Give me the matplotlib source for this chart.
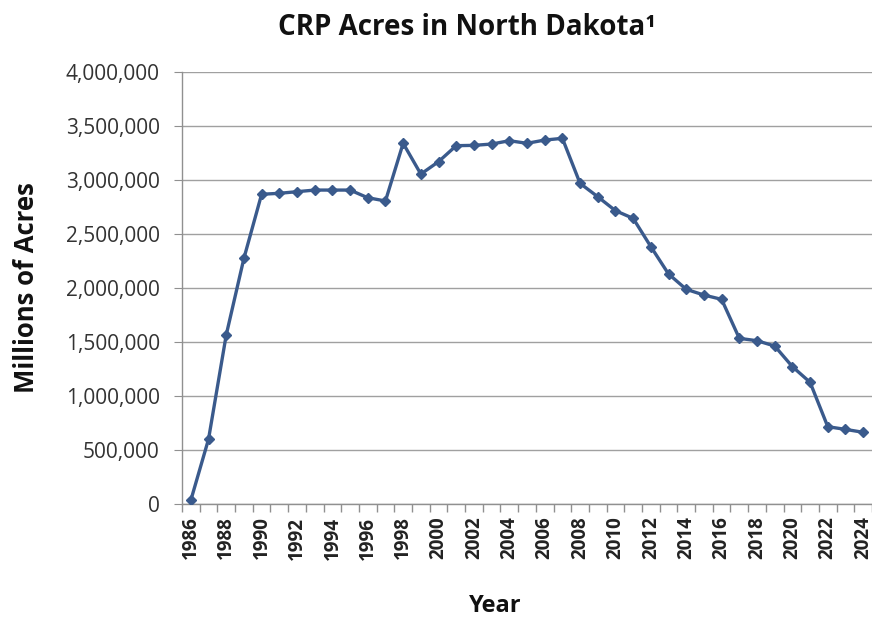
import matplotlib
matplotlib.use('Agg')
import matplotlib.pyplot as plt
from matplotlib.ticker import FuncFormatter, FixedLocator

# CRP acres by year
years = list(range(1986, 2025))
acres = [35000, 600000, 1565000, 2275000, 2868000, 2877000, 2892000, 2907000, 2907000, 2907000,
         2836000, 2806000, 3340000, 3055000, 3170000, 3318000, 3321000, 3333000, 3364000, 3340000,
         3370000, 3386000, 2969000, 2845000, 2716000, 2645000, 2383000, 2130000, 1988000, 1935000,
         1895000, 1534000, 1512000, 1463000, 1272000, 1127000, 716000, 691000, 664000]
y_ticks = [0, 500000, 1000000, 1500000, 2000000, 2500000, 3000000, 3500000, 4000000]

plt.rcParams['font.family'] = ['Open Sans', 'DejaVu Sans']

fig = plt.figure(figsize=(8.72, 6.22), dpi=100)
ax = fig.add_axes([0.2087, 0.1897, 0.7913, 0.6945])

idx = list(range(len(years)))
ax.plot(idx, acres, color='#3a5a8c', linewidth=2.4, marker='D', markersize=5.5,
        markerfacecolor='#3a5a8c', markeredgecolor='#3a5a8c', zorder=3)

ax.set_xlim(-0.5, len(years) - 0.5)
ax.set_ylim(0, 4000000)
ax.set_yticks(y_ticks)
ax.yaxis.set_major_formatter(FuncFormatter(lambda v, p: '{:,.0f}'.format(v)))
ax.grid(axis='y', color='#a0a0a0', linewidth=1.0)
ax.set_axisbelow(True)

# year labels every two years, tick marks between categories
ax.set_xticks(idx[::2])
ax.set_xticklabels([str(y) for y in years[::2]], rotation=90, fontsize=13.5,
                   fontweight='bold', color='#222222')
ax.xaxis.set_minor_locator(FixedLocator([i - 0.5 for i in range(len(years) + 1)]))
ax.tick_params(axis='x', which='major', length=0, pad=9)
ax.tick_params(axis='x', which='minor', length=6, color='#909090', width=1)
ax.tick_params(axis='y', length=6, color='#909090', labelsize=15, labelcolor='#333333', pad=10)

for s in ['top', 'right']:
    ax.spines[s].set_visible(False)
for s in ['left', 'bottom']:
    ax.spines[s].set_color('#909090')
    ax.spines[s].set_linewidth(1)

fig.text(0.535, 0.955, 'CRP Acres in North Dakota\u00b9', ha='center', va='center',
         fontsize=20, fontweight='bold', color='#111111')
fig.text(0.568, 0.025, 'Year', ha='center', va='center', fontsize=17, fontweight='bold',
         color='#111111')
fig.text(0.03, 0.537, 'Millions of Acres', ha='center', va='center', rotation=90,
         fontsize=18.5, fontweight='bold', color='#111111')

fig.savefig('out.png', dpi=100, facecolor='white')
